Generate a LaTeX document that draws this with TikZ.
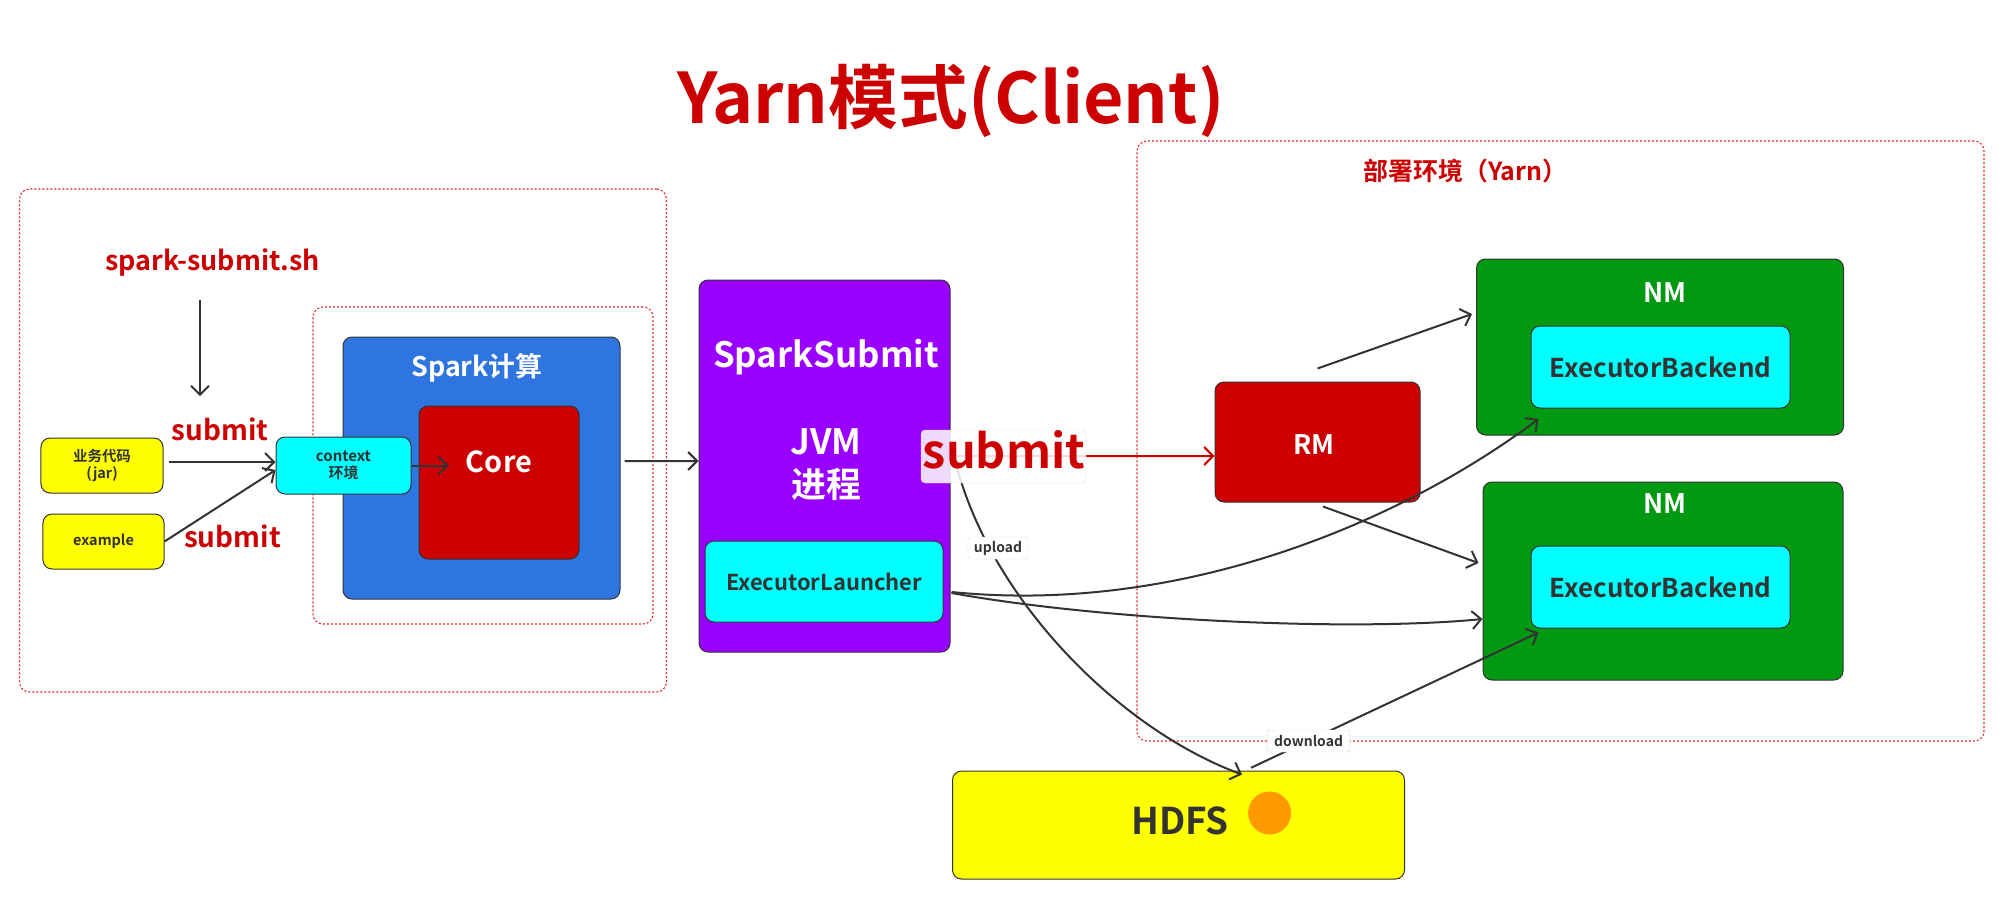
\documentclass[tikz,border=0pt]{standalone}
\usepackage{fontspec}
\setmainfont{Noto Sans CJK SC}[BoldFont={Noto Sans CJK SC Bold}]
\usetikzlibrary{arrows.meta,calc}
\definecolor{tred}{RGB}{204,0,0}
\definecolor{cblue}{RGB}{46,117,224}
\definecolor{cpurple}{RGB}{153,0,255}
\definecolor{ccyan}{RGB}{0,255,255}
\definecolor{cyel}{RGB}{255,255,0}
\definecolor{cgreen}{RGB}{0,153,17}
\definecolor{cdark}{RGB}{51,51,51}
\definecolor{corange}{RGB}{255,153,0}
\definecolor{cdash}{RGB}{235,40,40}
\newcommand\fsz[2]{\fontsize{#1}{#2}\selectfont}
\begin{document}
\begin{tikzpicture}[x=1bp,y=-1bp,
  dbox/.style={draw=cdash, line width=1.1bp, dash pattern=on 2bp off 2bp, rounded corners=10bp, inner sep=0},
  box/.style={draw=cdark, line width=1bp, rounded corners=9bp, inner sep=0},
  txt/.style={inner sep=0, font=\bfseries},
  conn/.style={draw=cdark, line width=2bp, -{Straight Barb[length=9bp,width=18bp,line width=2bp]}},
  tag/.style={draw=black!15, fill=white, rounded corners=3bp, inner sep=0, text=cdark, font=\bfseries\fsz{14}{14}}
]
\useasboundingbox (0,0) rectangle (2003,918);

% dashed frames
\node[dbox, minimum width=647bp, minimum height=503bp] (lbox) at (343,440.5) {};
\node[dbox, minimum width=340bp, minimum height=317bp] (ibox) at (483,465.5) {};
\node[dbox, minimum width=847bp, minimum height=600bp] (rbox) at (1560.5,441) {};

% title
\node[txt, text=tred, font=\bfseries\fsz{70}{70}, anchor=base] (title) at (951,123) {Yarn模式(Client)};
\node[txt, text=tred, font=\bfseries\fsz{25}{25}, anchor=base] (yarnlbl) at (1465.5,180.5) {部署环境（Yarn）};

% left part
\node[txt, text=tred, font=\bfseries\fsz{27}{27}, anchor=base] (sh) at (212.5,270) {spark-submit.sh};
\node[txt, text=tred, font=\bfseries\fsz{28}{28}, anchor=base] (sub1) at (220,440) {submit};
\node[txt, text=tred, font=\bfseries\fsz{28}{28}, anchor=base] (sub2) at (232.5,547.5) {submit};
\node[box, fill=cyel, minimum width=122bp, minimum height=55bp, align=center, text=cdark, font=\bfseries\fsz{14.5}{18}] (jar) at (102,465.5) {业务代码\\(jar)};
\node[box, fill=cyel, minimum width=121bp, minimum height=55bp, text=cdark, font=\bfseries\fsz{14.5}{18}] (ex) at (103.5,541.5) {example};

\node[box, fill=cblue, minimum width=277bp, minimum height=262bp] (spark) at (481.5,468) {};
\node[txt, text=white, font=\bfseries\fsz{27}{27}, anchor=base] (sparktxt) at (477,376) {Spark计算};
\node[box, fill=tred, minimum width=160bp, minimum height=153bp] (core) at (499,482.5) {};
\node[txt, text=white, font=\bfseries\fsz{29}{29}, anchor=base] (coretxt) at (499,472) {Core};
\node[box, fill=ccyan, minimum width=135bp, minimum height=57bp, align=center, text=cdark, font=\bfseries\fsz{15}{17.5}] (ctx) at (343.5,465.5) {context\\环境};

% SparkSubmit
\node[box, fill=cpurple, minimum width=251bp, minimum height=372bp] (ss) at (824.5,466) {};
\node[txt, text=white, font=\bfseries\fsz{35}{35}, anchor=base] (sstxt) at (826,367) {SparkSubmit};
\node[txt, text=white, font=\bfseries\fsz{35}{43}, align=center, anchor=base] (jvm) at (826,497) {JVM\\进程};
\node[box, fill=ccyan, minimum width=238bp, minimum height=81bp, text=cdark, font=\bfseries\fsz{22}{22}] (el) at (824,581.5) {ExecutorLauncher};

% RM & NMs
\node[box, fill=tred, minimum width=205bp, minimum height=120bp] (rm) at (1317.5,442) {};
\node[txt, text=white, font=\bfseries\fsz{27}{27}, anchor=base] (rmtxt) at (1314,454) {RM};
\node[box, fill=cgreen, minimum width=367bp, minimum height=176bp] (nm1) at (1660,347) {};
\node[txt, text=white, font=\bfseries\fsz{27}{27}, anchor=base] (nm1txt) at (1665,302) {NM};
\node[box, fill=ccyan, minimum width=259bp, minimum height=82bp, text=cdark, font=\bfseries\fsz{26}{26}] (eb1) at (1660.5,367) {ExecutorBackend};
\node[box, fill=cgreen, minimum width=360bp, minimum height=198bp] (nm2) at (1663,581) {};
\node[txt, text=white, font=\bfseries\fsz{27}{27}, anchor=base] (nm2txt) at (1665,513.5) {NM};
\node[box, fill=ccyan, minimum width=259bp, minimum height=82bp, text=cdark, font=\bfseries\fsz{26}{26}] (eb2) at (1660.5,587) {ExecutorBackend};

% HDFS
\node[box, fill=cyel, minimum width=452bp, minimum height=108bp] (hdfs) at (1178.5,825) {};
\node[txt, text=cdark, font=\bfseries\fsz{37}{37}, anchor=base] (hdfstxt) at (1180,834) {HDFS};
\node[circle, fill=corange, inner sep=0, minimum size=43bp] (dot) at (1269.6,813) {};

% connectors
\draw[conn] ($(sh.base)+(-12.5,30)$) -- ($(sub1.north)+(-20,-21)$);
\draw[conn] ([xshift=5bp,yshift=3.5bp]jar.east) -- ([yshift=3.5bp]ctx.west);
\draw[conn] (ex.east) -- ([yshift=-4.5bp]ctx.west);
\draw[conn] (ctx.east) -- ($(ctx.east -| coretxt.west)+(-17,0)$);
\draw[conn] ([xshift=4bp,yshift=7bp]spark.east) -- ([yshift=5bp]ss.west);
\draw[conn, draw=tred] ([yshift=10bp]ss.east) -- ([yshift=-14bp]rm.west);
\draw[conn] ([yshift=13bp]rm.north) -- ([xshift=-4bp,yshift=33bp]nm1.west);
\draw[conn] ([xshift=5.5bp,yshift=-4bp]rm.south) -- ([xshift=-4bp,yshift=18bp]nm2.west);
\draw[conn] ([xshift=8bp,yshift=-10.5bp]el.east) .. controls +(229,23) and +(-139,104) .. ([xshift=8bp,yshift=-10.5bp]eb1.south west);
\draw[conn] ([xshift=8bp,yshift=-11.5bp]el.east) .. controls +(149,27) and +(-133,13) .. ([yshift=-38bp]nm2.west);
\draw[conn] ([xshift=5bp,yshift=4bp]ss.east) .. controls +(35,138) and +(-122,-45) .. ([xshift=63.5bp,yshift=-4bp]hdfs.north);
\draw[conn] ([xshift=72.5bp,yshift=2.7bp]hdfs.north) -- ([xshift=8bp,yshift=-4bp]eb2.south west);

% labels on connectors
\node[draw=black!15, fill=white, fill opacity=0.85, text opacity=1, rounded corners=4bp, inner sep=0, minimum width=165bp, minimum height=53bp] (sublbl) at (1003.5,456.5) {};
\node[txt, text=tred, font=\bfseries\fsz{47}{47}, anchor=base] (subbig) at (1004,468) {submit};
\node[tag, minimum width=60bp, minimum height=22bp] (upl) at (998,548) {upload};
\node[tag, minimum width=83bp, minimum height=22bp] (dnl) at (1308.6,741) {download};
\end{tikzpicture}
\end{document}
